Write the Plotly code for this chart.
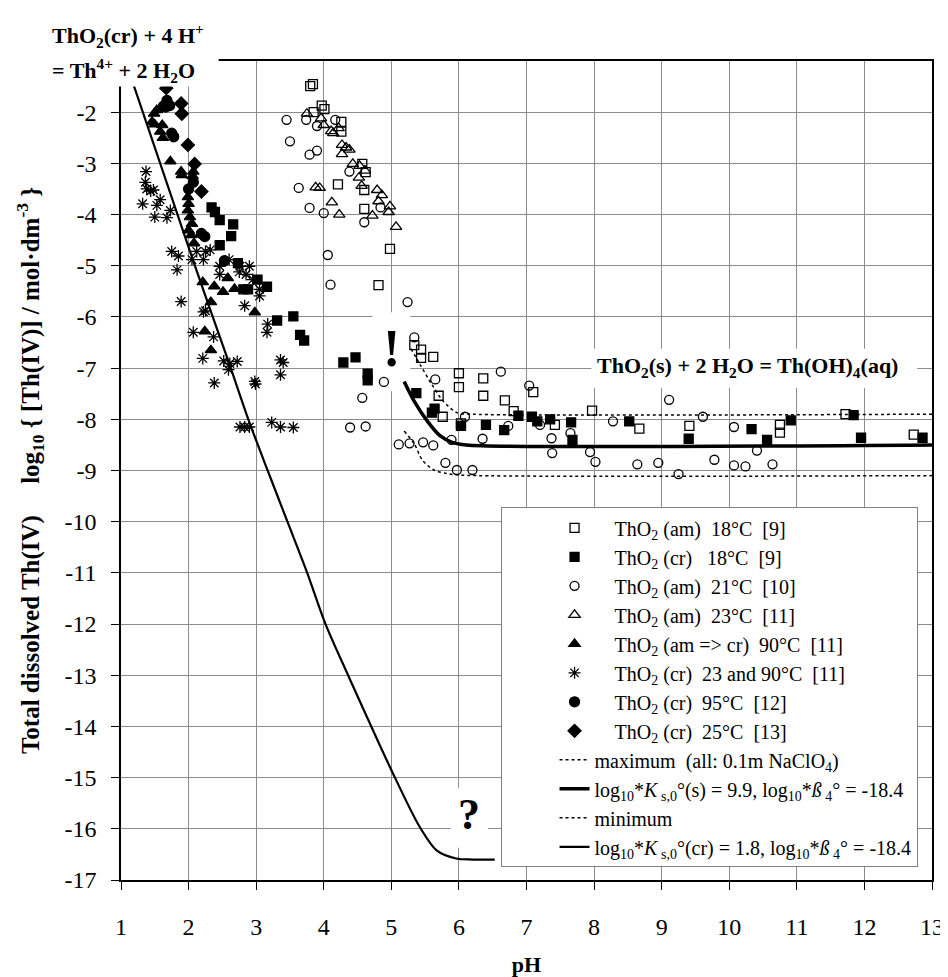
import plotly.graph_objects as go

FONT = "Liberation Serif"

# ---------------- data ----------------
am18_ph = [3.80, 3.84, 3.97, 4.01, 3.85, 4.26, 4.26, 4.57, 4.62, 4.21, 4.60, 4.60, 4.98, 4.81,
           5.34, 5.44, 5.44, 5.62, 5.70, 5.76, 6.00, 6.00, 6.03, 6.36, 6.36, 6.68, 6.81, 7.10,
           7.42, 7.97, 8.67, 9.41, 10.75, 10.75, 11.72, 12.73]
am18_y = [-1.49, -1.45, -1.87, -1.94, -2.00, -2.19, -2.38, -3.01, -3.17, -3.41, -3.52, -3.89, -4.67, -5.38,
          -6.55, -6.64, -6.80, -6.78, -7.54, -7.95, -7.10, -7.37, -8.08, -7.20, -7.54, -7.63, -7.84, -7.47,
          -8.11, -7.83, -8.18, -8.13, -8.11, -8.26, -7.90, -8.30]

cr18_ph = [2.34, 2.39, 2.46, 2.66, 2.63, 2.46, 2.73, 2.81, 2.88, 3.02, 3.16, 3.31, 3.55, 3.65, 3.71,
           4.29, 4.47, 4.65, 4.65, 5.37, 5.64, 5.60, 6.03, 6.40, 6.67, 6.88, 7.08, 7.16, 7.35, 7.66,
           7.68, 8.52, 9.40, 10.33, 10.56, 10.91, 11.84, 11.95, 12.86]
cr18_y = [-3.86, -3.95, -4.11, -4.19, -4.42, -4.60, -4.95, -5.46, -5.46, -5.27, -5.41, -6.07, -5.99, -6.35, -6.46,
          -6.89, -6.79, -7.11, -7.24, -7.49, -7.79, -7.87, -8.13, -8.11, -8.21, -7.93, -7.95, -8.04, -8.00, -8.06,
          -8.40, -8.04, -8.38, -8.19, -8.40, -8.02, -7.92, -8.36, -8.36]

am21_ph = [3.45, 3.50, 3.79, 3.90, 3.74, 3.90, 4.17, 3.63, 3.79, 4.00, 4.06, 4.10, 4.38, 4.84, 4.60,
           5.24, 5.34, 4.89, 4.57, 4.39, 4.62, 5.65, 5.11, 5.27, 5.47, 5.62, 5.89, 5.80, 5.97, 6.20,
           6.09, 6.35, 6.62, 6.73, 7.04, 7.20, 7.37, 7.38, 7.65, 7.94, 8.02, 8.28, 8.64, 8.95, 9.11,
           9.25, 9.61, 9.78, 10.07, 10.07, 10.24, 10.41, 10.64]
am21_y = [-2.15, -2.57, -2.83, -2.75, -2.15, -2.27, -2.15, -3.48, -3.87, -3.97, -4.79, -5.37, -3.16, -3.86, -4.15,
          -5.71, -6.40, -7.27, -7.58, -8.16, -8.14, -7.22, -8.49, -8.47, -8.45, -8.51, -8.40, -8.85, -8.99, -8.99,
          -7.95, -8.38, -7.07, -8.13, -7.34, -8.11, -8.37, -8.66, -8.27, -8.64, -8.83, -8.04, -8.88, -8.85, -7.62,
          -9.07, -7.95, -8.79, -8.15, -8.90, -8.92, -8.61, -8.88]

am23_ph = [3.75, 3.96, 4.00, 4.11, 4.14, 4.22, 4.27, 4.33, 4.38, 4.27, 4.43, 4.53, 4.61, 4.52, 4.56,
           3.88, 3.94, 4.12, 4.23, 4.79, 4.86, 4.81, 4.98, 4.96, 4.72, 5.07]
am23_y = [-2.03, -2.12, -2.25, -2.37, -2.41, -2.31, -2.64, -2.69, -2.73, -2.82, -3.01, -3.05, -3.14, -3.28, -3.44,
          -3.47, -3.48, -3.76, -4.00, -3.52, -3.62, -3.74, -3.84, -3.95, -4.02, -4.24]

amcr90_ph = [1.49, 1.53, 1.46, 1.50, 1.61, 1.58, 1.62, 1.73, 1.89, 1.90, 2.07, 2.06, 1.99, 2.00, 1.99,
             2.02, 2.05, 2.00, 2.04, 2.08, 2.21, 2.38, 2.51, 2.58, 2.68, 2.33, 2.24, 2.33, 2.98]
amcr90_y = [-2.03, -1.96, -2.19, -2.24, -2.25, -2.38, -2.50, -2.96, -3.16, -3.23, -3.16, -3.25, -3.66, -3.79, -3.92,
            -4.05, -4.18, -4.31, -4.40, -4.56, -5.32, -5.40, -5.51, -5.24, -5.45, -5.71, -6.28, -6.65, -5.91]

cr2390_ph = [1.37, 1.36, 1.38, 1.44, 1.48, 1.32, 1.53, 1.58, 1.50, 1.68, 1.73, 1.75, 1.85, 1.83, 1.89,
             2.05, 2.12, 2.25, 2.22, 2.32, 2.25, 2.46, 2.60, 2.76, 2.85, 2.95, 3.05, 3.05, 2.83, 3.17,
             3.16, 2.46, 2.07, 2.22, 2.37, 2.21, 2.38, 2.52, 2.61, 2.72, 2.59, 2.98, 2.99, 3.36, 3.40,
             3.36, 2.76, 2.83, 2.90, 3.23, 3.36, 3.55, 2.90, 2.75]
cr2390_y = [-3.16, -3.37, -3.50, -3.54, -3.52, -3.79, -3.82, -3.71, -4.05, -4.06, -3.92, -4.72, -4.81, -5.08, -5.70,
            -4.88, -4.72, -4.72, -4.88, -4.69, -5.88, -5.01, -4.88, -5.01, -5.17, -5.27, -5.46, -5.59, -5.78, -6.14,
            -6.30, -5.17, -6.30, -5.90, -6.39, -6.81, -7.29, -6.86, -6.91, -6.87, -7.03, -7.26, -7.31, -6.84, -6.89,
            -7.13, -8.15, -8.15, -8.15, -8.06, -8.15, -8.16, -5.01, -5.12]

cr95_ph = [1.68, 1.66, 1.72, 1.63, 1.75, 1.78, 2.07, 2.00, 2.24, 2.19, 2.53]
cr95_y = [-1.77, -1.90, -1.87, -1.88, -2.41, -2.48, -3.37, -3.50, -4.43, -4.37, -4.90]

cr25_ph = [1.67, 1.89, 1.90, 1.99, 2.09, 2.19]
cr25_y = [-1.53, -1.83, -2.03, -2.64, -3.01, -3.55]

max_ph = [5.29, 5.43, 5.60, 5.77, 5.97, 6.20, 13.0]
max_y = [-6.62, -6.94, -7.32, -7.65, -7.87, -7.90, -7.90]

s_ph = [5.19, 5.34, 5.53, 5.72, 5.90, 6.11, 13.0]
s_y = [-7.26, -7.65, -8.03, -8.32, -8.45, -8.50, -8.50]

min_ph = [5.19, 5.34, 5.46, 5.63, 5.82, 6.02, 13.0]
min_y = [-8.23, -8.48, -8.80, -8.99, -9.06, -9.09, -9.10]

cr_ph = [1.19, 2.08, 2.59, 2.90, 3.17, 3.46, 3.75, 4.02, 4.36, 4.71, 5.00, 5.41, 5.67, 5.96, 6.20, 6.53]
cr_y = [-1.48, -4.95, -6.87, -8.06, -9.00, -9.99, -10.98, -11.98, -13.00, -14.02, -14.85, -15.94, -16.42,
        -16.58, -16.60, -16.60]

x_ticks = list(range(1, 14))
y_ticks = list(range(-17, -1))

NB = "\u00a0"
names_markers = [
    f"{NB*4}ThO<sub>2</sub>{NB}(am){NB*2}18°C{NB*2}[9]",
    f"{NB*4}ThO<sub>2</sub>{NB}(cr){NB*3}18°C{NB*2}[9]",
    f"{NB*4}ThO<sub>2</sub>{NB}(am){NB*2}21°C{NB*2}[10]",
    f"{NB*4}ThO<sub>2</sub>{NB}(am){NB*2}23°C{NB*2}[11]",
    f"{NB*4}ThO<sub>2</sub>{NB}(am => cr){NB*2}90°C{NB*2}[11]",
    f"{NB*4}ThO<sub>2</sub>{NB}(cr){NB*2}23 and 90°C{NB*2}[11]",
    f"{NB*4}ThO<sub>2</sub>{NB}(cr){NB*2}95°C{NB*2}[12]",
    f"{NB*4}ThO<sub>2</sub>{NB}(cr){NB*2}25°C{NB*2}[13]",
]
names_lines = [
    f"maximum{NB*2}(all: 0.1m NaClO<sub>4</sub>)",
    f"log<sub>10</sub>*<i>K</i><sub>{NB}s,0</sub>°(s) = 9.9, log<sub>10</sub>*<i>ß</i><sub>{NB}4</sub>° = -18.4",
    "minimum",
    f"log<sub>10</sub>*<i>K</i><sub>{NB}s,0</sub>°(cr) = 1.8, log<sub>10</sub>*<i>ß</i><sub>{NB}4</sub>° = -18.4",
]

fig = go.Figure()

marker_specs = [
    (am18_ph, am18_y, "square-open", 9),
    (cr18_ph, cr18_y, "square", 9),
    (am21_ph, am21_y, "circle-open", 9),
    (am23_ph, am23_y, "triangle-up-open", 10),
    (amcr90_ph, amcr90_y, "triangle-up", 10),
    (cr2390_ph, cr2390_y, "asterisk-open", 10),
    (cr95_ph, cr95_y, "circle", 10),
    (cr25_ph, cr25_y, "diamond", 10),
]
for (xs, ys, sym, sz), nm in zip(marker_specs, names_markers):
    fig.add_trace(go.Scatter(
        x=xs, y=ys, mode="markers", name=nm,
        marker=dict(symbol=sym, size=sz, color="black",
                    line=dict(color="black", width=1.3)),
    ))

line_specs = [
    (max_ph, max_y, 1.5, "3px,3px"),
    (s_ph, s_y, 3.5, "solid"),
    (min_ph, min_y, 1.5, "3px,3px"),
    (cr_ph, cr_y, 2.2, "solid"),
]
for (xs, ys, w, d), nm in zip(line_specs, names_lines):
    fig.add_trace(go.Scatter(
        x=xs, y=ys, mode="lines", name=nm,
        line=dict(color="black", width=w, dash=d, shape="spline", smoothing=0.8),
    ))

annots = [
    dict(xref="paper", yref="paper", x=-0.088, y=1.031, xanchor="left", yanchor="middle",
         text="<b>ThO<sub>2</sub>(cr) + 4 H<sup>+</sup></b>", showarrow=False,
         font=dict(family=FONT, size=22, color="black")),
    dict(xref="paper", yref="paper", x=-0.088, y=0.988, xanchor="left", yanchor="middle",
         text="<b>= Th<sup>4+</sup> + 2 H<sub>2</sub>O</b>", showarrow=False,
         font=dict(family=FONT, size=22, color="black")),
    dict(x=10.27, y=-6.98, text="<b>ThO<sub>2</sub>(s) + 2 H<sub>2</sub>O = Th(OH)<sub>4</sub>(aq)</b>",
         showarrow=False, font=dict(family=FONT, size=22, color="black")),
    dict(x=5.0, y=-6.62, text="<b>!</b>", showarrow=False,
         font=dict(family=FONT, size=52, color="black")),
    dict(x=6.15, y=-15.72, text="<b>?</b>", showarrow=False,
         font=dict(family=FONT, size=44, color="black")),
]

# white masks behind the in-plot labels (above the grid, below the data)
shapes = [
    dict(type="rect", xref="paper", yref="paper", x0=-0.02, x1=0.1204, y0=0.9688, y1=1.02,
         fillcolor="white", line=dict(width=0), layer="above"),
    dict(type="rect", x0=4.72, x1=5.28, y0=-7.45, y1=-5.91,
         fillcolor="white", line=dict(width=0), layer="between"),
    dict(type="rect", x0=5.88, x1=6.43, y0=-16.37, y1=-15.2,
         fillcolor="white", line=dict(width=0), layer="between"),
    dict(type="rect", x0=7.96, x1=12.78, y0=-7.39, y1=-6.62,
         fillcolor="white", line=dict(width=0), layer="between"),
]

fig.update_layout(
    width=948, height=977,
    margin=dict(l=113, r=13, t=53, b=92),
    paper_bgcolor="white", plot_bgcolor="white",
    font=dict(family=FONT, size=24, color="black"),
    showlegend=True,
    legend=dict(x=0.468, y=0.455, xanchor="left", yanchor="top",
                bgcolor="white", bordercolor="#808080", borderwidth=1,
                font=dict(family=FONT, size=20, color="black"),
                indentation=53, itemwidth=30, tracegroupgap=0),
    annotations=annots,
    shapes=shapes,
)

fig.update_xaxes(
    range=[1, 13], tickvals=x_ticks, ticktext=[str(v) for v in x_ticks],
    showgrid=True, gridcolor="#8c8c8c", gridwidth=1,
    showline=True, linecolor="black", linewidth=1.5, mirror=True,
    ticks="outside", ticklen=8, tickcolor="black", tickwidth=1.2,
    ticklabelstandoff=16,
    tickfont=dict(family=FONT, size=24, color="black"),
    zeroline=False,
    title=dict(text="<b>pH</b>", font=dict(family=FONT, size=22, color="black"), standoff=18),
)
fig.update_yaxes(
    range=[-17, -1], tickvals=y_ticks, ticktext=[str(v) for v in y_ticks],
    showgrid=True, gridcolor="#8c8c8c", gridwidth=1,
    showline=True, linecolor="black", linewidth=1.5, mirror=True,
    ticks="outside", ticklen=8, tickcolor="black", tickwidth=1.2,
    ticklabelstandoff=10,
    tickfont=dict(family=FONT, size=24, color="black"),
    zeroline=False,
    title=dict(text="<b>Total dissolved Th(IV)" + NB * 5 +
               "log<sub>10</sub> { [Th(IV)] / mol·dm<sup>-3</sup> }</b>",
               font=dict(family=FONT, size=25, color="black"), standoff=18),
)

fig.write_html("out.html")
